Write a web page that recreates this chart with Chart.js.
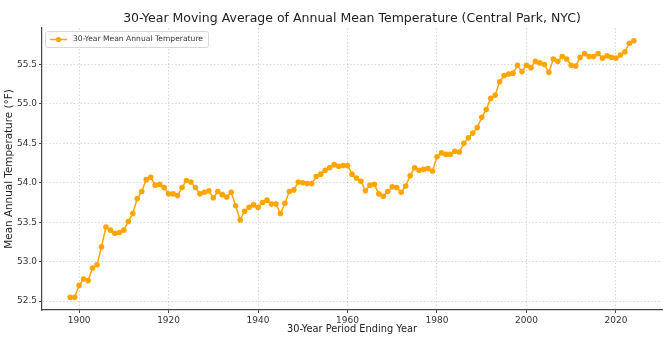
<!DOCTYPE html>
<html>
<head>
<meta charset="utf-8">
<script src="https://cdn.jsdelivr.net/npm/chart.js@4"></script>
<style>
  html, body { margin: 0; padding: 0; background: #fff; }
  #wrap { width: 665px; height: 338px; position: relative; }
</style>
</head>
<body>
<div id="wrap"><canvas id="tempChart"></canvas></div>
<script>
// 30-year periods, by ending year
const years = [];
for (let y = 1898; y <= 2024; y++) years.push(y);

const meanTemps = [
  52.55, 52.55, 52.70, 52.78, 52.76, 52.92, 52.96, 53.19, 53.44, 53.40,
  53.36, 53.37, 53.40, 53.51, 53.61, 53.80, 53.89, 54.04, 54.07, 53.97,
  53.98, 53.94, 53.86, 53.86, 53.84, 53.94, 54.03, 54.01, 53.94, 53.86,
  53.88, 53.90, 53.81, 53.89, 53.85, 53.82, 53.88, 53.71, 53.53, 53.64,
  53.69, 53.72, 53.69, 53.75, 53.78, 53.73, 53.73, 53.61, 53.74, 53.89,
  53.91, 54.01, 54.00, 53.99, 53.99, 54.08, 54.11, 54.16, 54.19, 54.23,
  54.21, 54.22, 54.22, 54.11, 54.06, 54.02, 53.90, 53.97, 53.98, 53.86,
  53.83, 53.89, 53.95, 53.94, 53.88, 53.96, 54.09, 54.19, 54.16, 54.17,
  54.18, 54.15, 54.33, 54.38, 54.36, 54.36, 54.40, 54.39, 54.50, 54.57,
  54.63, 54.70, 54.83, 54.93, 55.07, 55.11, 55.28, 55.36, 55.38, 55.39,
  55.49, 55.41, 55.49, 55.46, 55.54, 55.52, 55.50, 55.40, 55.57, 55.54,
  55.60, 55.57, 55.49, 55.48, 55.59, 55.64, 55.60, 55.60, 55.64, 55.58,
  55.61, 55.59, 55.58, 55.62, 55.66, 55.77, 55.80
];

const xTicks = [1900, 1920, 1940, 1960, 1980, 2000, 2020];
const yTicks = [52.5, 53.0, 53.5, 54.0, 54.5, 55.0, 55.5];

const seriesLabel = '30-Year Mean Annual Temperature';
const chartTitle = '30-Year Moving Average of Annual Mean Temperature (Central Park, NYC)';
const ORANGE = '#ffa500';
const FONT = 'DejaVu Sans';

// title + legend drawn by hand so the plot area stays where matplotlib put it
const overlay = {
  id: 'overlay',
  afterDraw(chart) {
    const ctx = chart.ctx;
    const area = chart.chartArea;
    ctx.save();
    ctx.fillStyle = '#222';
    ctx.font = `12.5px "${FONT}"`;
    ctx.textAlign = 'center';
    ctx.textBaseline = 'middle';
    ctx.fillText(chartTitle, (area.left + area.right) / 2, 19);

    // legend box
    const bx = area.left + 3, by = area.top + 3, bw = 163, bh = 16;
    ctx.fillStyle = 'rgba(255,255,255,0.8)';
    ctx.strokeStyle = '#d8d8d8';
    ctx.lineWidth = 1;
    ctx.beginPath();
    ctx.roundRect(bx + 0.5, by + 0.5, bw, bh, 2);
    ctx.fill();
    ctx.stroke();
    const ly = by + bh / 2 + 0.5;
    ctx.strokeStyle = ORANGE;
    ctx.lineWidth = 1.5;
    ctx.beginPath();
    ctx.moveTo(bx + 5, ly);
    ctx.lineTo(bx + 22, ly);
    ctx.stroke();
    ctx.fillStyle = ORANGE;
    ctx.beginPath();
    ctx.arc(bx + 13.5, ly, 2.6, 0, Math.PI * 2);
    ctx.fill();
    ctx.fillStyle = '#333';
    ctx.font = `7.6px "${FONT}"`;
    ctx.textAlign = 'left';
    ctx.fillText(seriesLabel, bx + 28, ly);
    ctx.restore();
  }
};

const gridOpts = {
  color: 'rgba(0,0,0,0.2)',
  lineWidth: 0.8,
  drawTicks: true,
  tickLength: 3,
  tickColor: '#444',
  tickWidth: 1,
  tickBorderDash: []
};

const ctx = document.getElementById('tempChart').getContext('2d');
new Chart(ctx, {
  type: 'line',
  data: {
    datasets: [{
      label: seriesLabel,
      data: years.map((y, i) => ({ x: y, y: meanTemps[i] })),
      borderColor: ORANGE,
      backgroundColor: ORANGE,
      borderWidth: 1.5,
      pointRadius: 2.8,
      pointBorderWidth: 0,
      pointHoverRadius: 3,
      tension: 0
    }]
  },
  options: {
    responsive: true,
    maintainAspectRatio: false,
    animation: false,
    layout: { padding: { top: 28, right: 3, left: 0, bottom: 0 } },
    plugins: {
      legend: { display: false },
      title: { display: false },
      tooltip: { enabled: false }
    },
    scales: {
      x: {
        type: 'linear',
        min: 1891.7,
        max: 2030.3,
        afterBuildTicks: s => { s.ticks = xTicks.map(v => ({ value: v })); },
        afterFit: s => { s.height = 28; },
        grid: gridOpts,
        border: { display: true, color: '#444', width: 1.2, dash: [1.5, 2] },
        ticks: { color: '#333', font: { family: FONT, size: 9 }, padding: 2, maxRotation: 0, callback: v => String(v) },
        title: { display: true, text: '30-Year Period Ending Year', color: '#222', font: { family: FONT, size: 9.8 }, padding: { top: 0, bottom: 3 } }
      },
      y: {
        min: 52.3875,
        max: 55.9625,
        afterBuildTicks: s => { s.ticks = yTicks.map(v => ({ value: v })); },
        afterFit: s => { s.width = 42; },
        grid: gridOpts,
        border: { display: true, color: '#444', width: 1.2, dash: [1.5, 2] },
        ticks: { color: '#333', font: { family: FONT, size: 9 }, padding: 2, callback: v => v.toFixed(1) },
        title: { display: true, text: 'Mean Annual Temperature (°F)', color: '#222', font: { family: FONT, size: 10.4 }, padding: { top: 3, bottom: 0 } }
      }
    }
  },
  plugins: [overlay]
});
</script>
</body>
</html>
